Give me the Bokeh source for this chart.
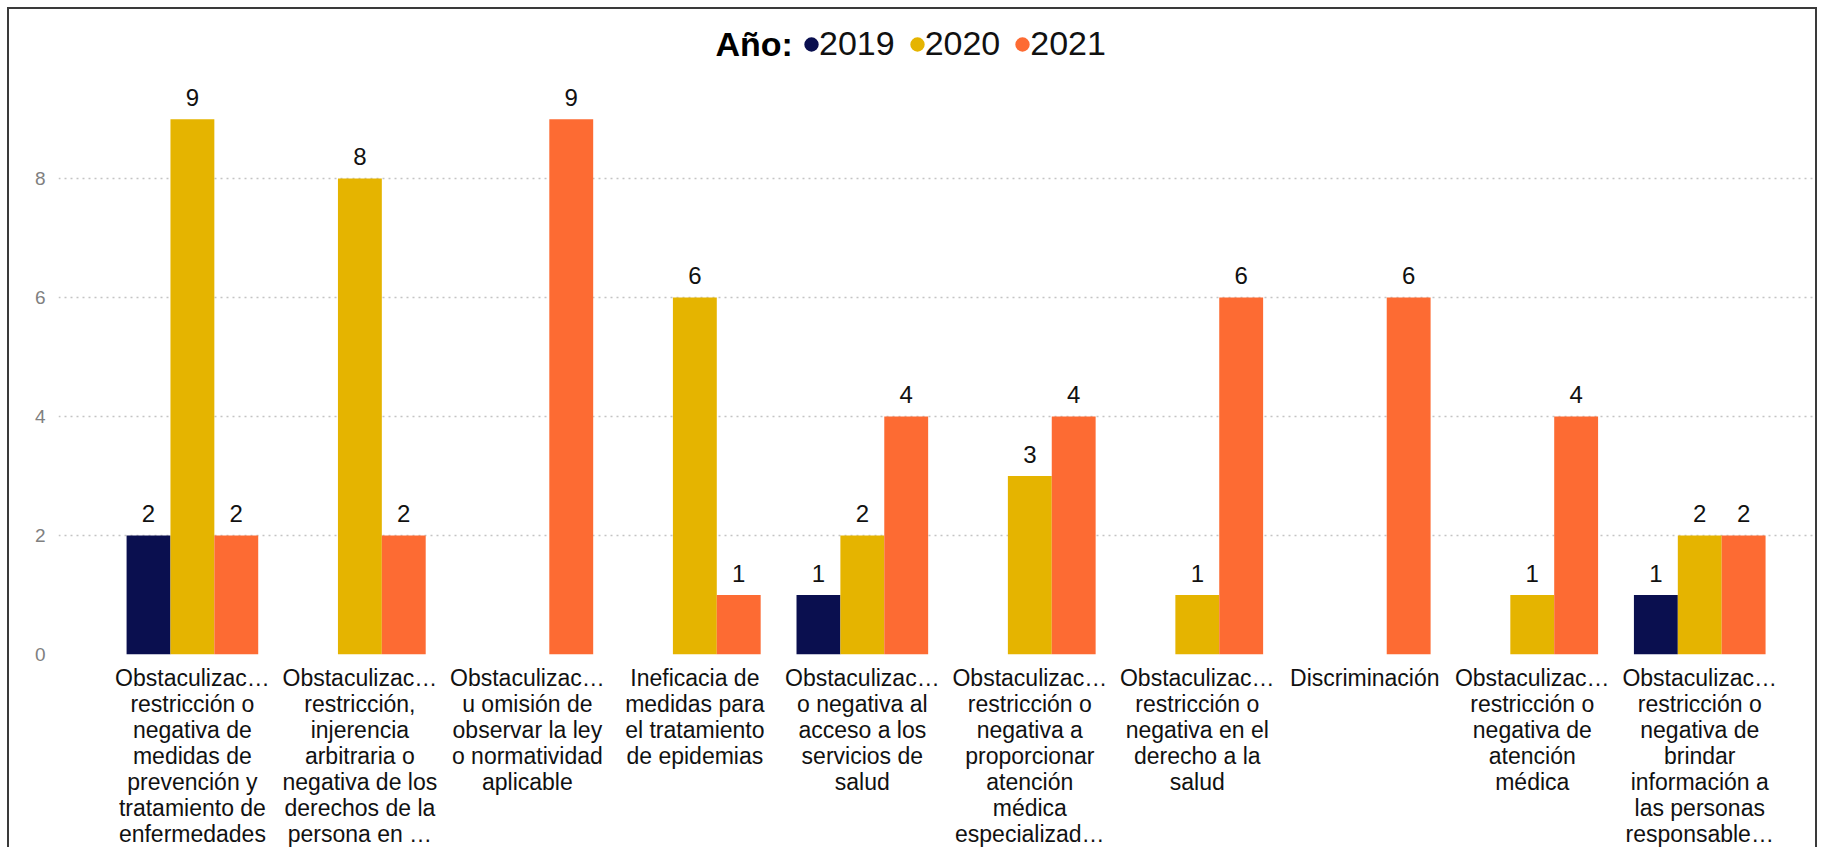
from bokeh.plotting import figure
from bokeh.models import ColumnDataSource, Range1d, FixedTicker, Legend, LegendItem, Label
from bokeh.transform import dodge
from bokeh.embed import file_html
from bokeh.resources import INLINE

categories = [
    "Obstaculizac…\nrestricción o\nnegativa de\nmedidas de\nprevención y\ntratamiento de\nenfermedades",
    "Obstaculizac…\nrestricción,\ninjerencia\narbitraria o\nnegativa de los\nderechos de la\npersona en …",
    "Obstaculizac…\nu omisión de\nobservar la ley\no normatividad\naplicable",
    "Ineficacia de\nmedidas para\nel tratamiento\nde epidemias",
    "Obstaculizac…\no negativa al\nacceso a los\nservicios de\nsalud",
    "Obstaculizac…\nrestricción o\nnegativa a\nproporcionar\natención\nmédica\nespecializad…",
    "Obstaculizac…\nrestricción o\nnegativa en el\nderecho a la\nsalud",
    "Discriminación",
    "Obstaculizac…\nrestricción o\nnegativa de\natención\nmédica",
    "Obstaculizac…\nrestricción o\nnegativa de\nbrindar\ninformación a\nlas personas\nresponsable…",
]
years = ["2019", "2020", "2021"]
v2019 = [2, 0, 0, 0, 1, 0, 0, 0, 0, 1]
v2020 = [9, 8, 0, 6, 2, 3, 1, 0, 1, 2]
v2021 = [2, 2, 9, 1, 4, 4, 6, 6, 4, 2]
y_ticks = [0, 2, 4, 6, 8]

colors = ["#0a0f4f", "#e5b400", "#fd6b33"]
FONT = "Liberation Sans"

idx = list(range(len(categories)))
W = 0.262
offsets = [-W, 0.0, W]
series = [v2019, v2020, v2021]

p = figure(width=1810, height=840, output_backend="svg", toolbar_location=None,
           x_range=Range1d(-0.7995, 9.715), y_range=Range1d(0, 10.843),
           min_border_left=49, min_border_right=0, min_border_top=0, min_border_bottom=195)
p.styles = {"border-top": "2px solid #3a3a3a", "border-left": "2px solid #3a3a3a",
            "border-right": "2px solid #3a3a3a", "margin-left": "7px", "margin-top": "7px"}
p.outline_line_color = None
p.background_fill_color = "white"
p.border_fill_color = "white"

legend_items = []
for yr, vals, off, col in zip(years, series, offsets, colors):
    src = ColumnDataSource(dict(x=idx, y=vals))
    p.vbar(x=dodge("x", off), top="y", width=W, source=src, fill_color=col, line_color=None)
    # hidden marker renderer that supplies the legend's round swatch
    r = p.scatter(x=dodge("x", off), y="y", source=src, size=0, marker="circle",
                  fill_color=col, line_color=col, line_width=8, visible=False)
    legend_items.append(LegendItem(label=yr, renderers=[r]))
    lx = [i for i, v in zip(idx, vals) if v > 0]
    ly = [v for v in vals if v > 0]
    lsrc = ColumnDataSource(dict(x=lx, y=ly, t=[str(v) for v in ly]))
    p.text(x=dodge("x", off), y="y", text="t", source=lsrc, text_align="center",
           text_baseline="alphabetic", y_offset=-22, text_font_size="24px",
           text_font={"value": FONT}, text_color="#111111")

legend = Legend(items=legend_items, orientation="horizontal", location=(745, 591),
                glyph_width=16, glyph_height=32, label_standoff=0, spacing=14,
                padding=0, margin=0, border_line_color=None, background_fill_alpha=0,
                label_text_font=FONT, label_text_font_size="34px", label_text_color="#111111",
                label_text_baseline="middle", click_policy="none")
p.add_layout(legend)

# axes
p.xaxis.ticker = FixedTicker(ticks=idx)
p.xaxis.major_label_overrides = {i: c for i, c in zip(idx, categories)}
p.xaxis.major_label_text_font = FONT
p.xaxis.major_label_text_font_size = "23px"
p.xaxis.major_label_text_color = "#111111"
p.xaxis.major_label_text_line_height = 1.0
p.xaxis.major_label_standoff = 10
p.xaxis.major_tick_out = 0
p.xaxis.major_tick_in = 0
p.xaxis.minor_tick_out = 0
p.xaxis.minor_tick_in = 0
p.xaxis.axis_line_color = None
p.xaxis.major_tick_line_color = None
p.xaxis.minor_tick_line_color = None

p.yaxis.ticker = FixedTicker(ticks=y_ticks)
p.yaxis.major_label_text_font = FONT
p.yaxis.major_label_text_font_size = "19px"
p.yaxis.major_label_text_color = "#808080"
p.yaxis.major_label_standoff = 13
p.yaxis.major_tick_out = 0
p.yaxis.major_tick_in = 0
p.yaxis.minor_tick_out = 0
p.yaxis.minor_tick_in = 0
p.yaxis.axis_line_color = None
p.yaxis.major_tick_line_color = None
p.yaxis.minor_tick_line_color = None

p.xgrid.grid_line_color = None
p.ygrid.grid_line_color = "#c4c4c4"
p.ygrid.grid_line_dash = "2 4"
p.ygrid.grid_line_width = 1.5

p.add_layout(Label(x=657, y=611, x_units="screen", y_units="screen", text="Año:",
                   text_font=FONT, text_font_size="34px", text_font_style="bold",
                   text_color="#000000", text_align="left", text_baseline="alphabetic"))

open("out.html", "w").write(file_html(p, INLINE))
